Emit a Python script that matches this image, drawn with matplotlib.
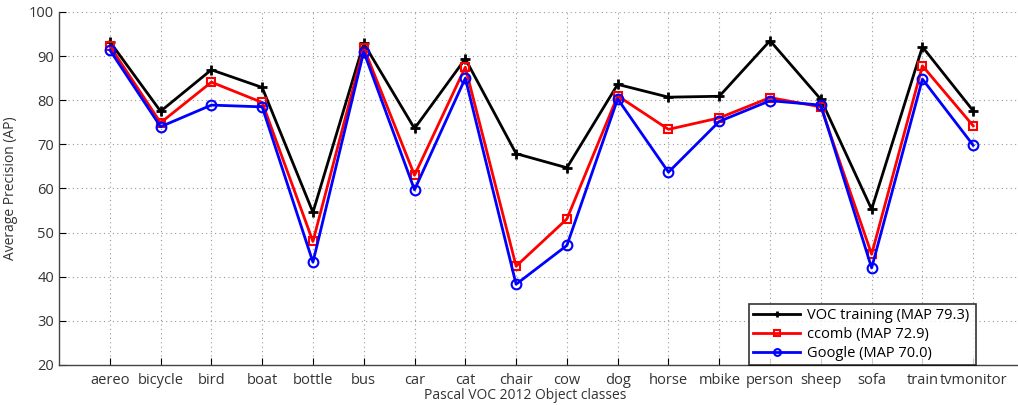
import matplotlib
matplotlib.use('Agg')
import matplotlib.pyplot as plt
import numpy as np

plt.rcParams['font.family'] = ['Open Sans', 'DejaVu Sans']

classes = ['aereo', 'bicycle', 'bird', 'boat', 'bottle', 'bus', 'car', 'cat', 'chair',
           'cow', 'dog', 'horse', 'mbike', 'person', 'sheep', 'sofa', 'train', 'tvmonitor']
voc_training = [93.3, 77.5, 86.9, 82.9, 54.6, 92.9, 73.6, 89.4, 67.9,
                64.7, 83.6, 80.7, 80.9, 93.5, 80.2, 55.3, 92.1, 77.6]
ccomb = [92.3, 74.9, 84.1, 79.5, 48.0, 91.9, 63.0, 87.5, 42.4,
         53.1, 81.0, 73.4, 76.0, 80.6, 78.5, 45.1, 87.8, 74.2]
google = [91.4, 74.0, 78.9, 78.5, 43.3, 91.0, 59.7, 85.0, 38.3,
          47.1, 80.3, 63.7, 75.2, 79.9, 78.9, 42.0, 84.8, 69.8]
labels = ['VOC training (MAP 79.3)', 'ccomb (MAP 72.9)', 'Google (MAP 70.0)']

x = np.arange(1, len(classes) + 1)

fig = plt.figure(figsize=(10.18, 4.05), dpi=100)
ax = fig.add_axes([59 / 1018, 40 / 405, 965 / 1018, 353 / 405])

ax.plot(x, voc_training, color='black', lw=2, marker='+', ms=7, mew=2, label=labels[0])
ax.plot(x, ccomb, color='red', lw=2, marker='s', ms=6, mew=1.5, mfc='none', label=labels[1])
ax.plot(x, google, color='blue', lw=2, marker='o', ms=7, mew=1.5, mfc='none', label=labels[2])

ax.set_xlim(0, 19)
ax.set_ylim(20, 100)
ax.set_xticks(x)
ax.set_xticklabels(classes, fontsize=10.5, color='#333333')
ax.set_yticks(np.arange(20, 101, 10))
ax.tick_params(axis='y', labelsize=10.5, labelcolor='#333333')
ax.tick_params(direction='in', length=5, width=0.8)
ax.tick_params(axis='x', pad=6)

ax.grid(True, linestyle=(0, (1, 3)), color='#999999', lw=0.8)
ax.spines['top'].set_visible(False)
ax.spines['right'].set_visible(False)
for s in ['left', 'bottom']:
    ax.spines[s].set_color('#444444')
    ax.spines[s].set_linewidth(1.0)

ax.set_xlabel('Pascal VOC 2012 Object classes', fontsize=10, color='#333333')
ax.xaxis.set_label_coords(0.483, -0.066)
ax.set_ylabel('Average Precision (AP)', fontsize=10, color='#333333')
ax.yaxis.set_label_coords(-0.042, 0.5)

leg = ax.legend(loc='lower left', bbox_to_anchor=(749 / 965 - 59 / 965, 0.0, 227 / 965, 65 / 353),
                mode='expand', fontsize=10.5, frameon=True, fancybox=False,
                edgecolor='black', handlelength=3.2, borderaxespad=0.0,
                labelspacing=0.25, borderpad=0.3, handletextpad=0.5, markerscale=0.7)
leg.get_frame().set_linewidth(1.2)

fig.savefig('out.png', dpi=100)
